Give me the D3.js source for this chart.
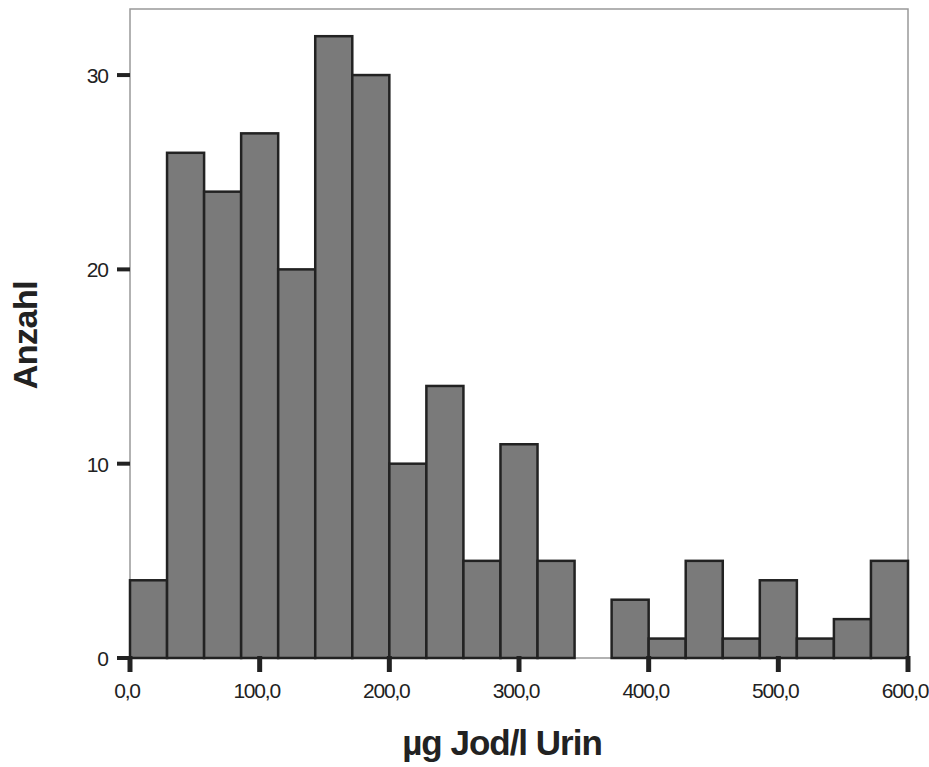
<!DOCTYPE html>
<html>
<head>
<meta charset="utf-8">
<script src="https://cdn.jsdelivr.net/npm/d3@7"></script>
<style>
  body { margin: 0; background: #fff; }
  text { font-family: "Liberation Sans", Arial, sans-serif; fill: #222; }
</style>
</head>
<body>
<svg id="chart" width="929" height="767"></svg>
<script>
// histogram counts, 21 bins from 0 to 600
var binCount = 21;
var counts = [4, 26, 24, 27, 20, 32, 30, 10, 14, 5, 11, 5, 0, 3, 1, 5, 1, 4, 1, 2, 5];
var xTicks = [0, 100, 200, 300, 400, 500, 600];
var yTicks = [0, 10, 20, 30];
var xTitle = "µg Jod/l Urin";
var yTitle = "Anzahl";

var svg = d3.select("#chart");

// plot box (note: "top" clashes with window.top, so use m*)
var mLeft = 130, mRight = 908, mTop = 9, mBottom = 658;

var x = d3.scaleLinear().domain([0, 600]).range([mLeft, mRight]);
var y = d3.scaleLinear().domain([0, 33.4]).range([mBottom, mTop]);

var binW = 600 / binCount;
var bins = counts.map(function(c, i) { return { x0: i * binW, x1: (i + 1) * binW, n: c }; });

// frame
svg.append("rect")
    .attr("x", mLeft).attr("y", mTop)
    .attr("width", mRight - mLeft).attr("height", mBottom - mTop)
    .attr("fill", "none").attr("stroke", "#999").attr("stroke-width", 1.5);

// bars
svg.append("g").selectAll("rect")
    .data(bins.filter(function(d) { return d.n > 0; }))
  .enter().append("rect")
    .attr("x", function(d) { return x(d.x0); })
    .attr("y", function(d) { return y(d.n); })
    .attr("width", function(d) { return x(d.x1) - x(d.x0); })
    .attr("height", function(d) { return y(0) - y(d.n); })
    .attr("fill", "#7a7a7a")
    .attr("stroke", "#222")
    .attr("stroke-width", 2.5);

// y axis ticks
var ya = svg.append("g");
ya.selectAll("line").data(yTicks).enter().append("line")
    .attr("x1", mLeft - 13).attr("x2", mLeft)
    .attr("y1", function(d) { return y(d); })
    .attr("y2", function(d) { return y(d); })
    .attr("stroke", "#222").attr("stroke-width", 4);
ya.selectAll("text").data(yTicks).enter().append("text")
    .attr("x", mLeft - 22)
    .attr("y", function(d) { return y(d) + 8; })
    .attr("text-anchor", "end")
    .attr("font-size", 21)
    .attr("letter-spacing", -1)
    .text(function(d) { return d; });

// x axis ticks
var xa = svg.append("g");
xa.selectAll("line").data(xTicks).enter().append("line")
    .attr("x1", function(d) { return x(d); })
    .attr("x2", function(d) { return x(d); })
    .attr("y1", mBottom - 2).attr("y2", mBottom + 14)
    .attr("stroke", "#222").attr("stroke-width", 5);
xa.selectAll("text").data(xTicks).enter().append("text")
    .attr("x", function(d) { return x(d) - 3; })
    .attr("y", mBottom + 40)
    .attr("text-anchor", "middle")
    .attr("font-size", 21)
    .attr("letter-spacing", -1.2)
    .text(function(d) { return d3.format(".1f")(d).replace(".", ","); });

// titles
svg.append("text")
    .attr("x", 502)
    .attr("y", 755)
    .attr("text-anchor", "middle")
    .attr("font-size", 35)
    .attr("font-weight", "bold")
    .attr("letter-spacing", -1)
    .text(xTitle);

svg.append("text")
    .attr("transform", "translate(37,335) rotate(-90)")
    .attr("text-anchor", "middle")
    .attr("font-size", 34)
    .attr("font-weight", "bold")
    .attr("letter-spacing", -0.5)
    .text(yTitle);
</script>
</body>
</html>
